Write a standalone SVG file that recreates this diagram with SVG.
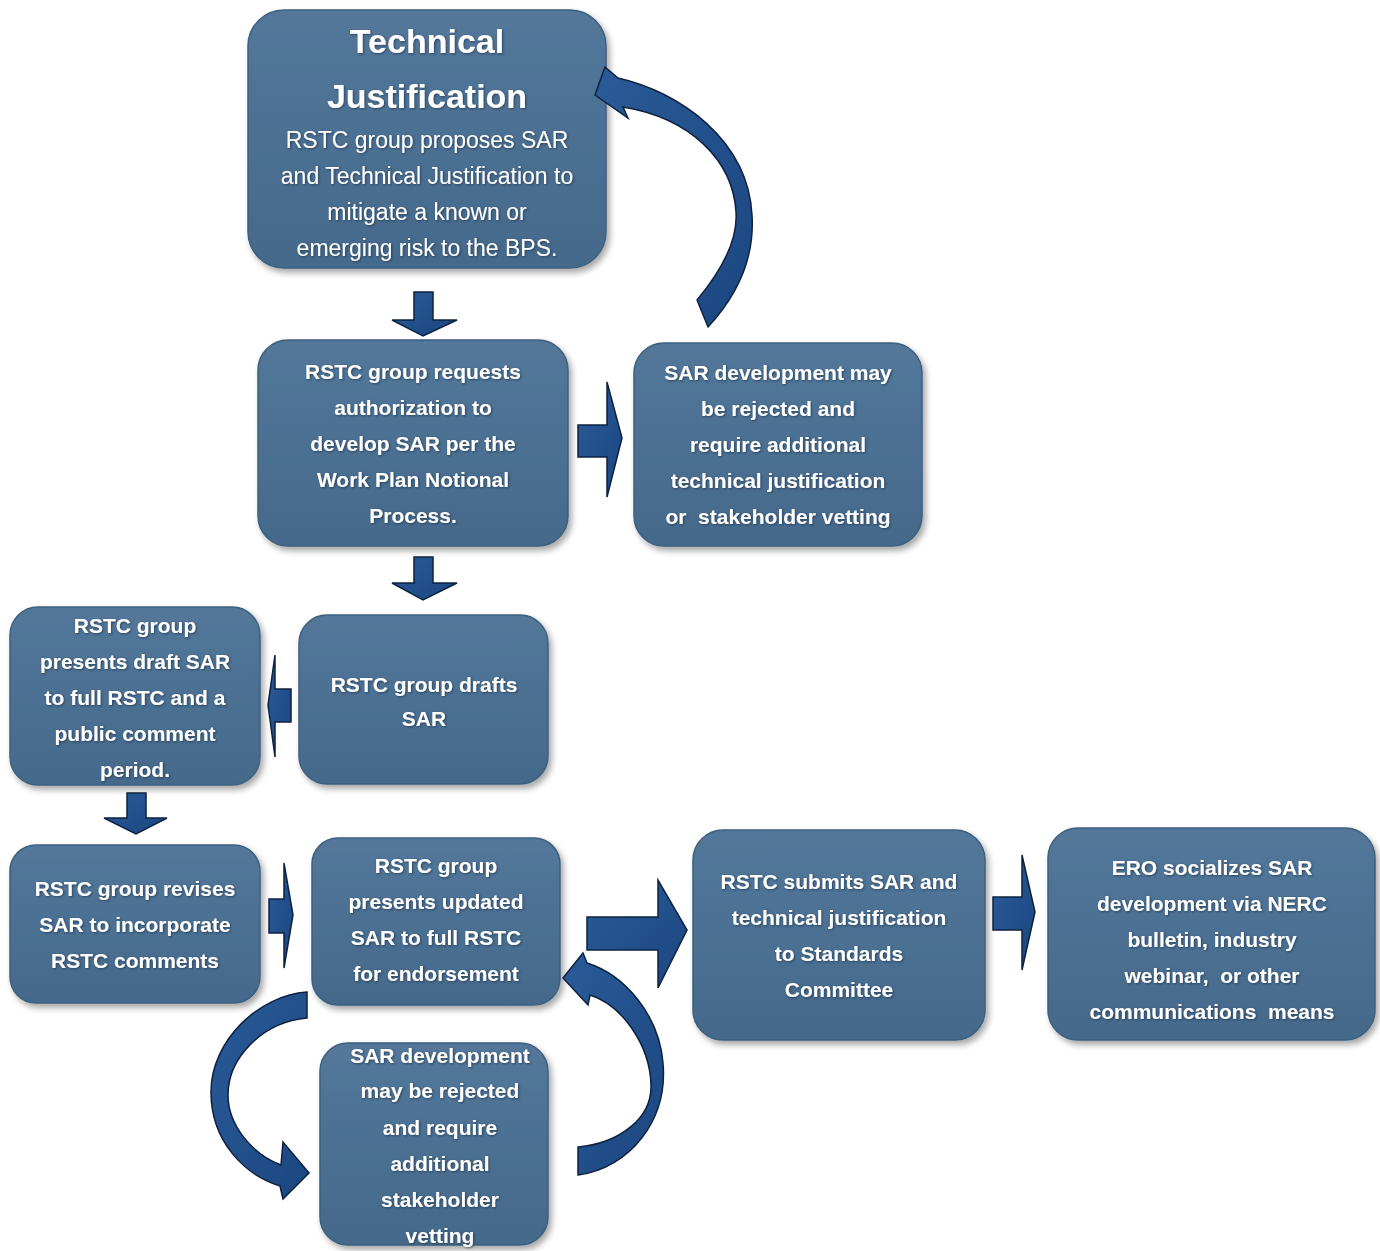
<svg xmlns="http://www.w3.org/2000/svg" width="1380" height="1251" viewBox="0 0 1380 1251">
<defs>
<linearGradient id="boxg" x1="0" y1="0" x2="0" y2="1">
<stop offset="0" stop-color="#53779a"/>
<stop offset="1" stop-color="#44698b"/>
</linearGradient>
<linearGradient id="arrg" x1="0" y1="0" x2="1" y2="1">
<stop offset="0" stop-color="#2a5b98"/>
<stop offset="1" stop-color="#1b4680"/>
</linearGradient>
<filter id="sh" x="-10%" y="-10%" width="125%" height="130%">
<feDropShadow dx="3" dy="4" stdDeviation="3" flood-color="#000" flood-opacity="0.35"/>
</filter>
<filter id="tsh" x="-5%" y="-20%" width="110%" height="150%">
<feDropShadow dx="1" dy="1" stdDeviation="1" flood-color="#1a2f45" flood-opacity="0.7"/>
</filter>
</defs>
<style>
.box{fill:url(#boxg);stroke:#3d607f;stroke-width:1.5;filter:url(#sh)}
text{white-space:pre}
.t{font-family:"Liberation Sans",Arial,sans-serif;font-size:21px;font-weight:bold;fill:#fff;text-anchor:middle;filter:url(#tsh)}
.tr{font-family:"Liberation Sans",Arial,sans-serif;font-size:23px;fill:#fff;text-anchor:middle;filter:url(#tsh)}
.title{font-family:"Liberation Sans",Arial,sans-serif;font-size:34px;font-weight:bold;fill:#fff;text-anchor:middle;filter:url(#tsh)}
.arr{fill:url(#arrg);stroke:#0d2240;stroke-width:1.5;stroke-linejoin:miter}
</style>
<rect width="1380" height="1251" fill="#ffffff"/>

<g id="n1">
<rect class="box" x="248" y="10" width="358" height="258" rx="36"/>
<text class="title" x="427" y="53">Technical</text>
<text class="title" x="427" y="108">Justification</text>
<text class="tr" x="427" y="148">RSTC group proposes SAR</text>
<text class="tr" x="427" y="184">and Technical Justification to</text>
<text class="tr" x="427" y="220">mitigate a known or</text>
<text class="tr" x="427" y="256">emerging risk to the BPS.</text>
</g>

<g id="n2">
<rect class="box" x="258" y="340" width="310" height="206" rx="30"/>
<text class="t" x="413" y="379">RSTC group requests</text>
<text class="t" x="413" y="415">authorization to</text>
<text class="t" x="413" y="451">develop SAR per the</text>
<text class="t" x="413" y="487">Work Plan Notional</text>
<text class="t" x="413" y="523">Process.</text>
</g>

<g id="n3">
<rect class="box" x="634" y="343" width="288" height="203" rx="30"/>
<text class="t" x="778" y="380">SAR development may</text>
<text class="t" x="778" y="416">be rejected and</text>
<text class="t" x="778" y="452">require additional</text>
<text class="t" x="778" y="488">technical justification</text>
<text class="t" x="778" y="524">or  stakeholder vetting</text>
</g>

<g id="n4">
<rect class="box" x="299" y="615" width="249" height="169" rx="28"/>
<text class="t" x="424" y="692">RSTC group drafts</text>
<text class="t" x="424" y="726">SAR</text>
</g>

<g id="n5">
<rect class="box" x="10" y="607" width="250" height="178" rx="28"/>
<text class="t" x="135" y="633">RSTC group</text>
<text class="t" x="135" y="669">presents draft SAR</text>
<text class="t" x="135" y="705">to full RSTC and a</text>
<text class="t" x="135" y="741">public comment</text>
<text class="t" x="135" y="777">period.</text>
</g>

<g id="n6">
<rect class="box" x="10" y="845" width="250" height="158" rx="26"/>
<text class="t" x="135" y="896">RSTC group revises</text>
<text class="t" x="135" y="932">SAR to incorporate</text>
<text class="t" x="135" y="968">RSTC comments</text>
</g>

<g id="n7">
<rect class="box" x="312" y="838" width="248" height="167" rx="26"/>
<text class="t" x="436" y="873">RSTC group</text>
<text class="t" x="436" y="909">presents updated</text>
<text class="t" x="436" y="945">SAR to full RSTC</text>
<text class="t" x="436" y="981">for endorsement</text>
</g>

<g id="n8">
<rect class="box" x="693" y="830" width="292" height="210" rx="30"/>
<text class="t" x="839" y="889">RSTC submits SAR and</text>
<text class="t" x="839" y="925">technical justification</text>
<text class="t" x="839" y="961">to Standards</text>
<text class="t" x="839" y="997">Committee</text>
</g>

<g id="n9">
<rect class="box" x="1048" y="828" width="327" height="212" rx="30"/>
<text class="t" x="1212" y="875">ERO socializes SAR</text>
<text class="t" x="1212" y="911">development via NERC</text>
<text class="t" x="1212" y="947">bulletin, industry</text>
<text class="t" x="1212" y="983">webinar,  or other</text>
<text class="t" x="1212" y="1019">communications  means</text>
</g>

<g id="n10">
<rect class="box" x="320" y="1043" width="228" height="202" rx="28"/>
<text class="t" x="440" y="1063">SAR development</text>
<text class="t" x="440" y="1098">may be rejected</text>
<text class="t" x="440" y="1135">and require</text>
<text class="t" x="440" y="1171">additional</text>
<text class="t" x="440" y="1207">stakeholder</text>
<text class="t" x="440" y="1243">vetting</text>
</g>

<g id="connectors">
<path class="arr" d="M414,292 L433,292 L433,320 L457,320 L423,336 L392,320 L414,320 Z"/>
<path class="arr" d="M414,557 L433,557 L433,583 L457,583 L423,600 L392,583 L414,583 Z"/>
<path class="arr" d="M127,793 L146,793 L146,818 L167,818 L136,834 L104,818 L127,818 Z"/>
<path class="arr" d="M578,425 L607,425 L607,382 L622,438 L607,497 L607,457 L578,457 Z"/>
<path class="arr" d="M587,917 L658,917 L658,880 L687,930 L658,988 L658,950 L587,950 Z"/>
<path class="arr" d="M993,897 L1022,897 L1022,855 L1035,912 L1022,970 L1022,930 L993,930 Z"/>
<path class="arr" d="M269,899 L284,899 L284,863 L293,915 L284,968 L284,933 L269,933 Z"/>
<path class="arr" d="M291,689 L275,689 L275,655 L268,705 L275,757 L275,722 L291,722 Z"/>
<path class="arr" d="M595,95 L605,67 L618,78 C680,92 748,140 752,215 C755,262 733,300 708,327 L697,300 C722,270 738,240 736,212 C733,160 690,118 623,107 L628,118 Z"/>
<path class="arr" d="M307,992 C260,995 211,1040 211,1092 C211,1142 245,1175 280,1186 L283,1199 L309,1173 L283,1142 L281,1165 C252,1154 228,1125 228,1095 C228,1058 262,1022 307,1018 Z"/>
<path class="arr" d="M578,1147 L578,1175 C630,1168 668,1120 663,1063 C659,1015 625,975 587,963 L583,953 L563,978 L588,1005 L590,995 C622,1005 650,1045 651,1085 C652,1118 620,1143 578,1147 Z"/>
</g>
</svg>
